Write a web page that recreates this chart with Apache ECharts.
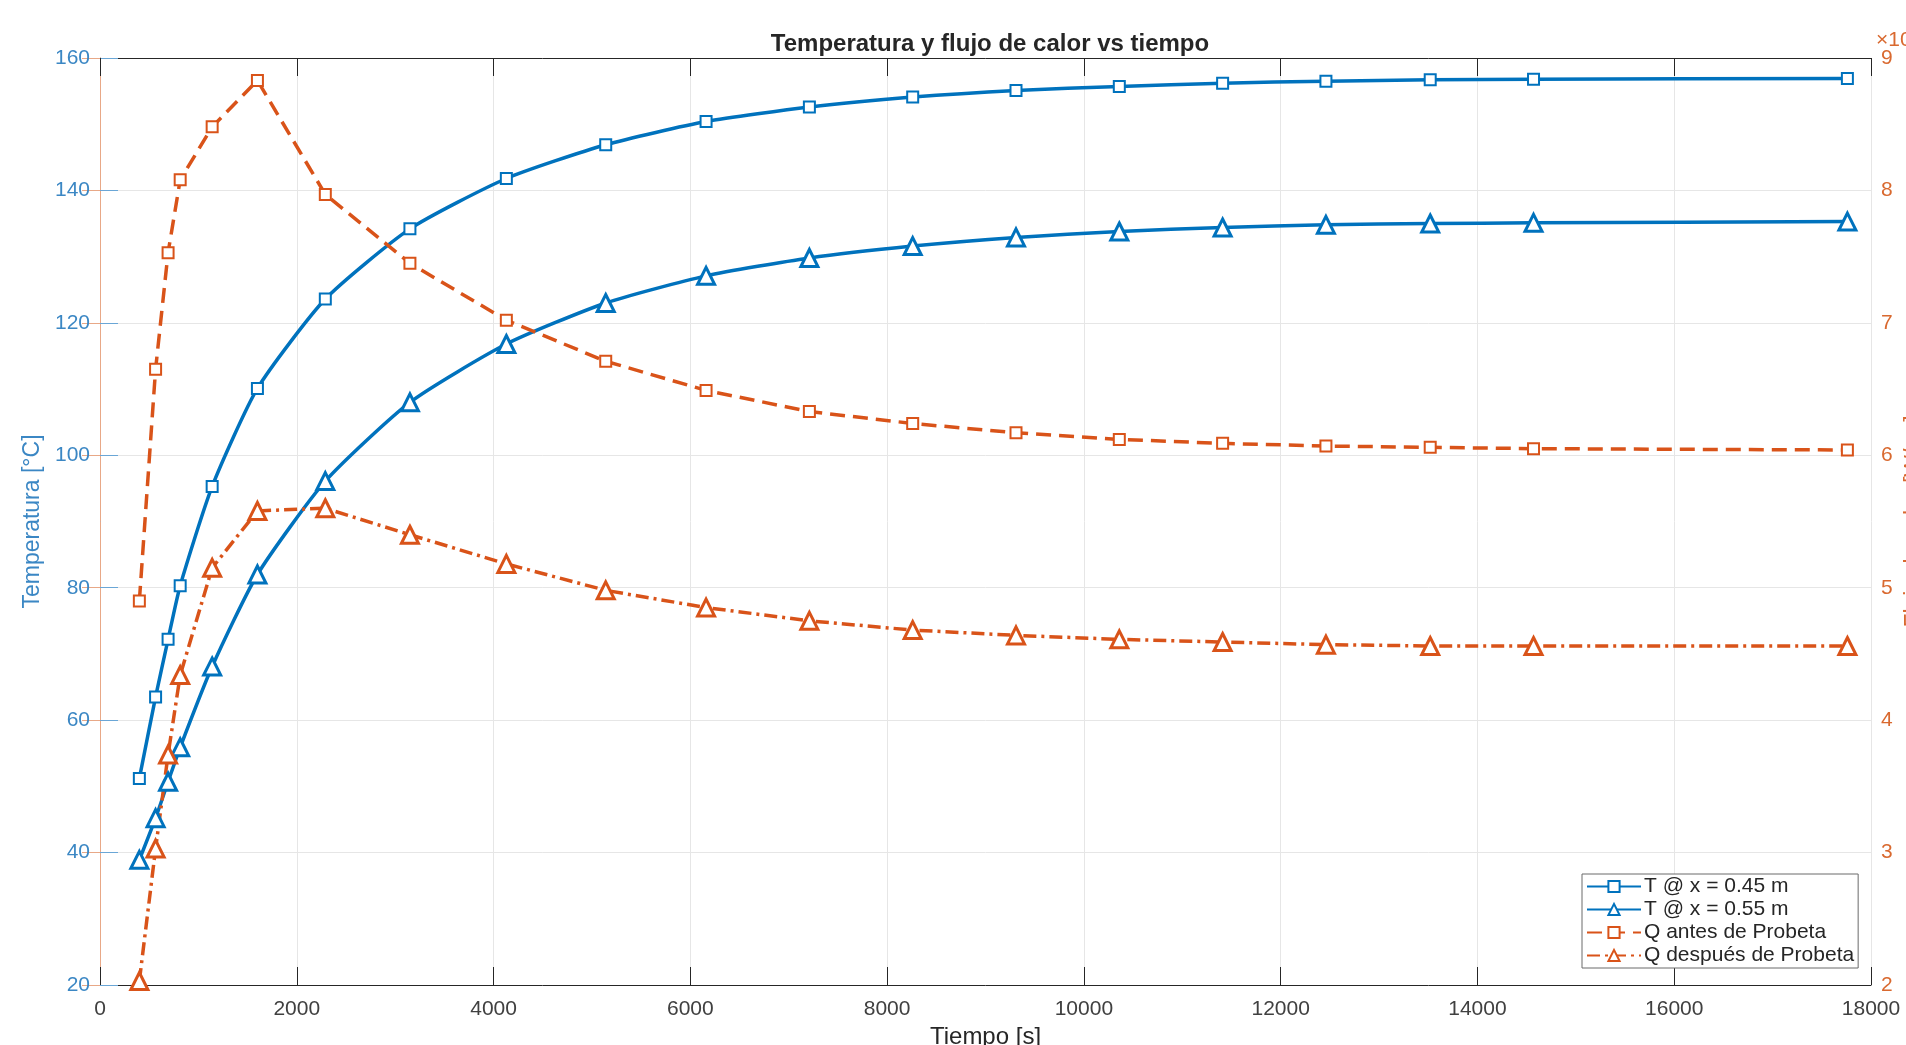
<!DOCTYPE html>
<html>
<head>
<meta charset="utf-8">
<script src="https://cdn.jsdelivr.net/npm/echarts@6/dist/echarts.min.js"></script>
<style>
  html, body { margin: 0; padding: 0; background: #fff; }
  #chart { width: 1906px; height: 1045px; }
</style>
</head>
<body>
<div id="chart"></div>
<script>
// tiempo [s]
const tiempo = [400, 565, 692, 815, 1140, 1600, 2290, 3150, 4130, 5140, 6160, 7210, 8260, 9310, 10360, 11410, 12460, 13520, 14570, 17760]
// temperaturas [°C]
const tX045 = [51.2, 63.5, 72.2, 80.3, 95.3, 110.1, 123.6, 134.2, 141.8, 146.9, 150.4, 152.6, 154.1, 155.1, 155.7, 156.2, 156.5, 156.7, 156.8, 156.9]
const tX055 = [38.9, 45.2, 50.7, 55.9, 68.1, 82.0, 96.1, 108.0, 116.8, 123.0, 127.1, 129.8, 131.6, 132.9, 133.8, 134.4, 134.8, 135.0, 135.1, 135.3]
// flujo de calor (en unidades del eje derecho, x10^4)
const qAntes = [4.90, 6.65, 7.53, 8.08, 8.48, 8.83, 7.97, 7.45, 7.02, 6.71, 6.49, 6.33, 6.24, 6.17, 6.12, 6.09, 6.07, 6.06, 6.05, 6.04]
const qDespues = [2.03, 3.03, 3.74, 4.34, 5.15, 5.58, 5.60, 5.40, 5.18, 4.98, 4.85, 4.75, 4.68, 4.64, 4.61, 4.59, 4.57, 4.56, 4.56, 4.56]

const azul = '#0072BD'
const naranja = '#D95319'
const fuente = 'Liberation Sans, Arial, sans-serif'

const pares = (ys) => tiempo.map((t, i) => [t, ys[i]])

const chart = echarts.init(document.getElementById('chart'))

const option = {
  backgroundColor: '#fff',
  animation: false,
  textStyle: { fontFamily: fuente },
  title: {
    text: 'Temperatura y flujo de calor vs tiempo',
    left: 985,
    textAlign: 'center',
    top: 27,
    textStyle: { fontSize: 24, fontWeight: 'bold', color: '#262626', fontFamily: fuente }
  },
  // posicion fija del area de trazado, sin ajustar a las etiquetas
  grid: { left: 100, right: 35, top: 58, bottom: 60, containLabel: false, outerBoundsMode: 'none' },
  legend: {
    orient: 'vertical',
    left: 1582,
    top: 874,
    backgroundColor: '#fff',
    borderColor: '#6b6b6b',
    borderWidth: 1,
    padding: [2, 4, 2, 4],
    itemGap: 2,
    itemWidth: 54,
    itemHeight: 14,
    textStyle: { fontSize: 21, color: '#262626', fontFamily: fuente, padding: [0, 0, 0, -2] },
    data: ['T @ x = 0.45 m', 'T @ x = 0.55 m', 'Q antes de Probeta', 'Q después de Probeta']
  },
  graphic: [
    {
      type: 'text',
      left: 1876,
      top: 30,
      style: { text: '×10⁴', fontSize: 21, fill: '#d9692f', fontFamily: fuente }
    }
  ],
  xAxis: [
    {
      type: 'value',
      min: 0,
      max: 18000,
      interval: 2000,
      name: 'Tiempo [s]',
      nameLocation: 'middle',
      nameGap: 38,
      nameTextStyle: { fontSize: 24, color: '#262626' },
      axisLine: { lineStyle: { color: '#262626', width: 1 } },
      axisTick: { inside: true, length: 18, lineStyle: { color: '#262626' } },
      axisLabel: { fontSize: 21, color: '#404040', margin: 14, formatter: (v) => String(v) },
      splitLine: { show: true, lineStyle: { color: '#e6e6e6', width: 1 } }
    },
    {
      type: 'value',
      position: 'top',
      min: 0,
      max: 18000,
      interval: 2000,
      axisLine: { show: true, lineStyle: { color: '#262626', width: 1 } },
      axisTick: { show: true, inside: true, length: 18, lineStyle: { color: '#262626' } },
      axisLabel: { show: false },
      splitLine: { show: false }
    }
  ],
  yAxis: [
    {
      type: 'value',
      min: 20,
      max: 160,
      interval: 20,
      name: 'Temperatura [°C]',
      nameLocation: 'middle',
      nameGap: 50,
      nameTextStyle: { fontSize: 23, color: '#3b87c4' },
      axisLine: { show: true, lineStyle: { color: '#6aa6d6', width: 1 } },
      axisTick: { show: true, inside: true, length: 18, lineStyle: { color: '#6aa6d6' } },
      axisLabel: { fontSize: 21, color: '#3b87c4', margin: 10 },
      splitLine: { show: true, lineStyle: { color: '#e6e6e6', width: 1 } }
    },
    {
      type: 'value',
      min: 2,
      max: 9,
      interval: 1,
      position: 'right',
      name: 'Flujo de calor [W/m²]',
      nameLocation: 'middle',
      nameGap: 30,
      nameRotate: 90,
      nameTextStyle: { fontSize: 23, color: '#d9692f' },
      axisLine: { show: true, lineStyle: { color: '#e8a887', width: 1 } },
      axisTick: { show: true, inside: true, length: 18, lineStyle: { color: '#e8a887' } },
      axisLabel: { fontSize: 21, color: '#d9692f', margin: 10 },
      splitLine: { show: false }
    }
  ],
  series: [
    {
      name: 'T @ x = 0.45 m',
      type: 'line',
      yAxisIndex: 0,
      data: pares(tX045),
      smooth: 0.2,
      symbol: 'rect',
      symbolSize: 11,
      lineStyle: { color: azul, width: 3.5 },
      itemStyle: { color: '#fff', borderColor: azul, borderWidth: 2 }
    },
    {
      name: 'T @ x = 0.55 m',
      type: 'line',
      yAxisIndex: 0,
      data: pares(tX055),
      smooth: 0.2,
      symbol: 'triangle',
      symbolSize: 17,
      lineStyle: { color: azul, width: 3.5 },
      itemStyle: { color: '#fff', borderColor: azul, borderWidth: 3 }
    },
    {
      name: 'Q antes de Probeta',
      type: 'line',
      yAxisIndex: 1,
      data: pares(qAntes),
      symbol: 'rect',
      symbolSize: 11,
      lineStyle: { color: naranja, width: 3.5, type: [15, 8] },
      itemStyle: { color: '#fff', borderColor: naranja, borderWidth: 2 }
    },
    {
      name: 'Q después de Probeta',
      type: 'line',
      yAxisIndex: 1,
      data: pares(qDespues),
      symbol: 'triangle',
      symbolSize: 17,
      lineStyle: { color: naranja, width: 3.5, type: [13, 5, 3, 5] },
      itemStyle: { color: '#fff', borderColor: naranja, borderWidth: 3 }
    }
  ]
}

chart.setOption(option)
</script>
</body>
</html>
